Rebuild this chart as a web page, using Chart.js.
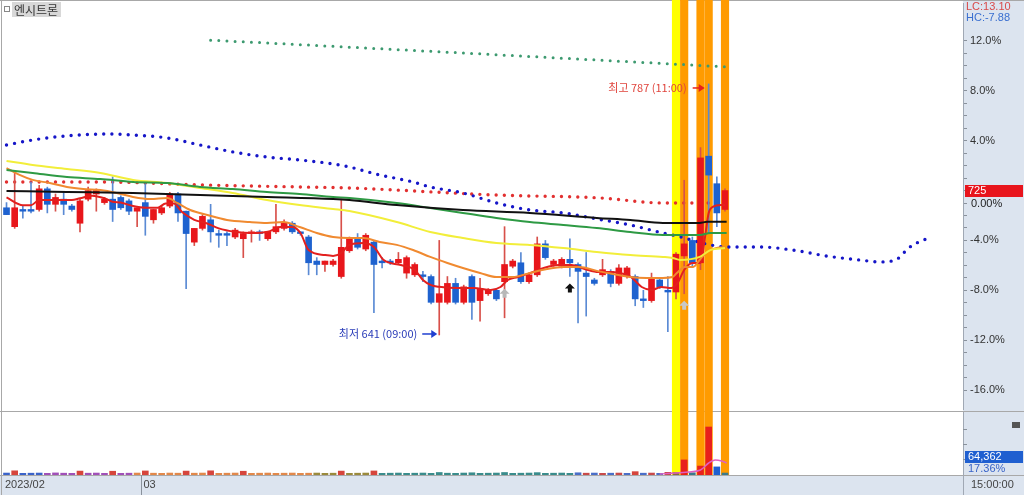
<!DOCTYPE html>
<html lang="ko">
<head>
<meta charset="UTF-8" />
<title>엔시트론</title>
<script src="https://cdn.jsdelivr.net/npm/chart.js@4.4.0/dist/chart.umd.min.js"></script>
<style>
  html, body { margin: 0; padding: 0; background: #fff; overflow: hidden; }
  #wrap { position: relative; width: 1024px; height: 495px; }
  #price { position: absolute; left: 0; top: 0; }
  #volume { position: absolute; left: 0; top: 412px; }
</style>
</head>
<body>
<div id="wrap">
  <canvas id="price" width="1024" height="412"></canvas>
  <canvas id="volume" width="1024" height="83"></canvas>
</div>
<script>
// ---- data (hourly candles) ----
const stockName = '엔시트론';
const opens = [715,704,714,714,714,726,717,720,716,706, 720,723,718,720,721,719,713,718,708,712,
  716,723,713,695,703,708,700,700,698,697, 700,701,697,701,703,706,701,698,684,682,
  682,675,690,697,691,695,684,684,683,677, 676,676,675,660,660,671,660,675,661,665,
  667,672,681,683,672,676,694,682,681,685, 682,677,673,676,678,671,675,675,662,661,
  673,667,666,687,696,683,745,729,714];
const highs = [718,735,716,730,728,727,723,724,717,720, 727,726,721,733,722,720,715,729,714,716,
  724,724,713,703,711,717,702,701,703,701, 702,702,701,717,708,707,701,699,686,684,
  685,720,698,700,700,696,686,685,689,687, 683,678,676,696,675,674,670,676,674,668,
  668,704,685,689,677,698,696,685,686,697, 683,689,674,685,679,682,681,676,667,677,
  674,675,689,731,698,750,787,733,726];
const lows = [711,703,709,712,713,712,713,711,713,701, 719,713,717,707,714,711,704,699,706,711,
  715,707,668,693,702,695,692,693,697,686, 695,696,696,700,702,700,699,676,676,678,
  681,674,689,691,690,654,680,682,682,674, 675,672,659,641,659,659,659,650,649,664,
  661,651,680,671,671,675,685,681,680,675, 648,652,670,675,669,670,674,658,657,660,
  668,643,662,665,681,679,700,704,713];
const closes = [711,715,713,713,726,717,721,717,714,719, 725,725,720,714,715,713,715,710,714,715,
  723,712,700,703,710,701,699,699,702,700, 701,700,701,704,706,701,700,683,682,684,
  684,692,697,692,699,682,683,683,685,686, 682,675,660,665,671,660,669,660,668,667,
  662,682,684,672,676,694,686,684,685,683, 678,675,671,679,671,680,680,662,661,674,
  669,666,688,694,683,744,734,712,725];
const volumes = [7000,15000,6000,6500,7000,6000,7500,6500,6000,14000,
  6500,7000,6000,13500,6000,6500,7000,14500,6500,6000,
  7000,6500,14000,6500,7000,15000,6000,6500,7000,13500,
  6000,6500,7000,6000,6500,7000,6000,6500,7000,6000,
  6500,14000,6000,6500,7000,14500,6000,6500,7000,6000,
  6500,7000,6000,9000,6500,6000,7000,8000,6000,6500,
  7000,9000,6000,6500,7000,8500,6000,6500,7000,6000,
  8000,6500,7000,6000,6500,7000,6000,12000,6500,7000,
  6000,9500,9000,54000,8000,32000,172000,29000,7000];

// moving averages and reference lines: [candle index, price]
const ma5 = [[0,721],[2,716.5],[3,716.5],[4,719.5],[6,719.5],[8,719.5],[9,720.5],[10.5,722],[12,720.5],[13,718.5],
  [14,718],[15.5,716],[17,715],[18.5,715],[19.5,717.5],[20.5,717.5],[21.5,712.5],[23,708],[24.5,706],[26,703],
  [28,701],[30,700.3],[32,701],[33.5,703.8],[35,703.8],[36,700.3],[37,690.4],[39,687.5],[40,687],[41,688.7],
  [42,693.4],[43.7,694.5],[45,692.2],[46.2,684.6],[48.3,681.7],[50,678.8],[51,673],[52,670],[53,669],[55.3,668.3],
  [57.2,668.3],[59.3,667.2],[60.5,668.9],[61.4,673],[62.6,674.7],[64.2,677.1],[65.8,680],[67.6,681.7],[69.2,681.7],
  [70.8,679.4],[72.5,677.6],[74.1,677.6],[75,677.1],[76.5,674.7],[77.8,668.9],[79,667.2],[80.2,668.9],[81.4,668.3],
  [82.2,671.3],[83,678.8],[84,682.9],[85,682.9],[85.5,696.3],[86,712],[86.5,715.5],[87.5,716.6],[88,716.6]];
const ma20 = [[0,738.1],[1.6,734.1],[3.2,731.2],[5.3,729.4],[7.4,727.1],[9.4,725.9],[11.5,725.3],[13.5,723.6],
  [15.5,721.3],[17.6,720.1],[19.7,720.7],[20.9,717.8],[22.5,713.7],[24.6,710.8],[27,707.9],[29.8,706.7],[31.9,706.2],
  [33.9,706.7],[35.9,703.8],[38,700.3],[40,698],[42,697.4],[43.7,697.4],[45.7,695.1],[47.8,693.4],[49.8,690.4],
  [51.9,686.4],[54,682.9],[55.9,680],[58,677.1],[60,674.7],[62,674.7],[64.1,677.1],[66.2,679.4],[68.2,680.6],
  [70.2,680.6],[72.3,678.3],[74.3,676.5],[76.4,674.7],[78.4,674.2],[80.4,674.2],[81.6,674.7],[82.1,677.1],
  [83.1,680.6],[84.1,680.6],[84.9,684.6],[85.8,689.3],[87,691.6],[88,692.2]];
const ma60 = [[0,742.2],[3.2,739.9],[7.4,737.6],[11.5,735.2],[15.5,731.2],[19.7,729.4],[23.7,726.5],[27.7,723.6],
  [31.9,719.5],[35.9,716.6],[40,714.3],[42,713.1],[47.8,706.7],[51.9,700.9],[55.9,697.4],[60,694.5],[64.1,693.4],
  [68.2,691.6],[72.3,689.3],[76.4,687.5],[80.4,686.4],[81.6,685.8],[82.5,684.6],[84.9,686.4],[86.2,690.4],[88,691.6]];
const ma120 = [[0,737],[3.2,735.2],[7.4,732.9],[11.5,731.7],[15.5,730],[19.7,729.4],[23.7,727.1],[27.7,725.9],
  [31.9,724.2],[35.9,723],[40,721.3],[42,720.7],[47.8,717.8],[51.9,714.9],[55.9,712],[60,709.1],[64.1,706.7],
  [68.2,705],[72.3,703.2],[76.4,700.9],[80.4,699.2],[84.9,699.2],[86.2,700.3],[88.2,700.3]];
const ma240 = [[0,724.8],[7.4,724.2],[15.5,723.6],[23.7,722.4],[31.9,721.3],[40,720.1],[42,719.5],[47.8,716.6],
  [55.9,713.7],[64.1,712],[72.3,709.1],[76.4,707.9],[80.4,706.2],[84.9,706.2],[85.8,706.8],[88.2,706.8]];
const redDots = [[0,730],[11.5,730],[23.7,728.3],[35.9,727.1],[42,726.5],[60,722.4],[72.7,720.7],[80.4,717.8],[87.2,717.8]];
const blueDots = [[0,751.5],[3.2,754.4],[7.4,756.8],[12.6,757.9],[15.5,757.3],[19.7,755.6],[23.7,751.5],[27.7,747.5],
  [31.9,744.5],[35.9,742.8],[40,740.5],[42,738.7],[45.7,734.1],[49.8,730],[51.9,727.1],[55.9,723.6],[60,717.8],
  [64.1,713.7],[68.2,712],[72.3,708.5],[76.4,705],[80.4,700.3],[82.1,698.6],[86.2,693.4],[88.2,692.2],[92.3,692.2],
  [96.3,690.4],[100.5,686.9],[104.5,684.6],[107,683.5],[109.1,685.2],[110,689.3],[111,693.4],[112.1,695.7],[113.1,698]];
const greenDots = [[25,812.5],[56,805],[88,797]];
const volAvg = [[80,4000],[82,7000],[83.5,10700],[85,17900],[86,43000],[86.8,53700],[87.6,50000],[88.2,43000]];

const yellowBars = [82];
const orangeBars = [83, 85, 86, 88];
const signals = [{ i: 61, p: 665, c: '#b8b8b8' }, { i: 69, p: 668, c: '#111' }, { i: 83, p: 658, c: '#c8c8c8' }];
const monthStarts = [0, 17];
const monthLabels = ['2023/02', '03'];
const lastTime = '15:00:00';
const hiTime = '11:00', loTime = '09:00';
const volLast = '64,362', volPct = '17.36%';

// ---- derived ----
const base = closes[closes.length - 1];
const hiMax = Math.max(...highs), loMin = Math.min(...lows);
const iHi = highs.indexOf(hiMax), iLo = lows.indexOf(loMin);
const pctSteps = [];
for (let p = -16; p <= 12; p++) pctSteps.push(p);
const idx = closes.map((c, i) => i);
const up = i => closes[i] >= opens[i];
const pts = arr => arr.map(d => ({ x: d[0], y: d[1] }));

const X_MIN = -0.43, X_MAX = 117.15;
const Y_MIN = 597.95, Y_MAX = 834.1;
const KR = '"Noto Sans CJK KR", sans-serif';
const NUM = '"Liberation Sans", Arial, sans-serif';
const PANEL = '#dce4ef';

function drawBands(chart, top, bottom) {
  const ctx = chart.ctx, x = chart.scales.x;
  const half = (x.getPixelForValue(1) - x.getPixelForValue(0)) / 2;
  ctx.save();
  ctx.fillStyle = '#ffff00';
  yellowBars.forEach(i => { const c = x.getPixelForValue(i); ctx.fillRect(c - half, top, half * 2, bottom - top); });
  ctx.fillStyle = '#ff9b00';
  orangeBars.forEach(i => { const c = x.getPixelForValue(i); ctx.fillRect(c - half, top, half * 2, bottom - top); });
  ctx.restore();
}

function arrow(ctx, x1, x2, y, color) {
  ctx.strokeStyle = color; ctx.fillStyle = color; ctx.lineWidth = 1.5;
  ctx.beginPath(); ctx.moveTo(x1, y); ctx.lineTo(x2 - 4, y); ctx.stroke();
  ctx.beginPath(); ctx.moveTo(x2, y); ctx.lineTo(x2 - 6, y - 4); ctx.lineTo(x2 - 6, y + 4); ctx.closePath(); ctx.fill();
}

const pricePlugin = {
  id: 'pricePlugin',
  beforeDraw(chart) {
    const ctx = chart.ctx;
    ctx.save();
    ctx.fillStyle = '#fff'; ctx.fillRect(0, 0, 1024, 412);
    ctx.fillStyle = PANEL; ctx.fillRect(963, 0, 61, 412);
    // frame, drawn under the signal bands
    ctx.strokeStyle = '#a8a8a8'; ctx.lineWidth = 1;
    ctx.beginPath(); ctx.moveTo(0, 0.5); ctx.lineTo(1024, 0.5); ctx.stroke();
    ctx.beginPath(); ctx.moveTo(1.5, 0); ctx.lineTo(1.5, 412); ctx.stroke();
    ctx.beginPath(); ctx.moveTo(0, 411.5); ctx.lineTo(1024, 411.5); ctx.stroke();
    ctx.restore();
  },
  beforeDatasetsDraw(chart) { drawBands(chart, 0, 412); },
  afterDraw(chart) {
    const ctx = chart.ctx, xs = chart.scales.x, ys = chart.scales.y;
    ctx.save();
    // title
    ctx.strokeStyle = '#888'; ctx.lineWidth = 1; ctx.strokeRect(4.5, 6.5, 5, 5);
    ctx.fillStyle = '#d8d8d8'; ctx.fillRect(12, 2, 49, 15);
    ctx.fillStyle = '#333'; ctx.font = '12px ' + KR; ctx.textBaseline = 'middle'; ctx.textAlign = 'left';
    ctx.fillText(stockName, 14, 10);
    // LC / HC
    ctx.font = '11px ' + NUM;
    ctx.fillStyle = '#d94a4a';
    ctx.fillText('LC:' + ((base / loMin - 1) * 100).toFixed(2), 966, 7);
    ctx.fillStyle = '#3a6fd0';
    ctx.fillText('HC:' + ((base / hiMax - 1) * 100).toFixed(2), 966, 18);
    // current price box
    const yb = ys.getPixelForValue(base);
    ctx.fillStyle = '#e8141c'; ctx.fillRect(965, Math.round(yb) - 6, 58, 12);
    ctx.fillStyle = '#fff'; ctx.fillText(String(base), 968, yb);
    ctx.fillStyle = '#222'; ctx.fillText('0.00%', 971, yb + 13);
    // high / low notes
    ctx.font = '11px ' + KR;
    const hx = xs.getPixelForValue(iHi), hy = ys.getPixelForValue(hiMax) + 4;
    ctx.fillStyle = '#e0443c'; ctx.textAlign = 'right';
    ctx.fillText('최고 ' + hiMax + ' (' + hiTime + ')', hx - 22, hy);
    arrow(ctx, hx - 16, hx - 4, hy, '#e8201c');
    const lx = xs.getPixelForValue(iLo), ly = ys.getPixelForValue(loMin) - 1;
    ctx.fillStyle = '#2a3cb8';
    ctx.fillText('최저 ' + loMin + ' (' + loTime + ')', lx - 22, ly);
    arrow(ctx, lx - 17, lx - 2, ly, '#1f3fd0');
    // signal arrows
    signals.forEach(s => {
      const cx = xs.getPixelForValue(s.i), cy = ys.getPixelForValue(s.p);
      ctx.fillStyle = s.c;
      ctx.beginPath();
      ctx.moveTo(cx, cy - 5); ctx.lineTo(cx + 5, cy); ctx.lineTo(cx + 2, cy); ctx.lineTo(cx + 2, cy + 4);
      ctx.lineTo(cx - 2, cy + 4); ctx.lineTo(cx - 2, cy); ctx.lineTo(cx - 5, cy); ctx.closePath(); ctx.fill();
    });
    ctx.restore();
  }
};

const lineDs = (arr, color, width) => ({
  type: 'line', data: pts(arr), borderColor: color, borderWidth: width || 2,
  pointRadius: 0, pointHoverRadius: 0, cubicInterpolationMode: 'monotone', order: 1
});
const dotDs = (arr, color, size) => ({
  type: 'line', data: pts(arr), borderColor: color, borderWidth: size,
  borderDash: [0, 8.165], borderCapStyle: 'round', pointRadius: 0, pointHoverRadius: 0,
  cubicInterpolationMode: 'monotone', order: 4
});

new Chart(document.getElementById('price'), {
  type: 'bar',
  data: {
    datasets: [
      dotDs(greenDots, '#3d9a70', 3),
      dotDs(blueDots, '#1616c8', 3.4),
      dotDs(redDots, '#e23030', 3.4),
      lineDs(ma240, '#111111', 2),
      lineDs(ma120, '#2e9a44', 2),
      lineDs(ma60, '#f2ee3a', 2),
      lineDs(ma20, '#f08a30', 2),
      lineDs(ma5, '#e3201e', 2),
      {
        type: 'bar', data: idx.map(i => ({ x: i, y: [lows[i], highs[i]] })),
        backgroundColor: c => up(c.dataIndex) ? '#d8504a' : '#5a8ad4',
        barThickness: 1, grouped: false, order: 3
      },
      {
        type: 'bar', data: idx.map(i => ({ x: i, y: [opens[i], closes[i]] })),
        backgroundColor: c => up(c.dataIndex) ? '#e8161b' : '#1e62cf',
        barThickness: 6, grouped: false, order: 2
      }
    ]
  },
  options: {
    responsive: false, animation: false, devicePixelRatio: 1, events: [],
    layout: { autoPadding: false, padding: { left: 3, top: 3, right: 0, bottom: 3 } },
    plugins: { legend: { display: false }, tooltip: { enabled: false } },
    scales: {
      x: { type: 'linear', min: X_MIN, max: X_MAX, display: false, offset: false },
      y: {
        position: 'right', min: Y_MIN, max: Y_MAX,
        afterFit: s => { s.width = 61; s.paddingTop = 0; s.paddingBottom = 0; },
        afterBuildTicks: s => {
          // edge ticks carry no label so the axis adds no extra padding
          s.ticks = [{ value: Y_MIN }]
            .concat(pctSteps.map(p => ({ value: base * (1 + p / 100) })))
            .concat([{ value: Y_MAX }]);
        },
        ticks: {
          autoSkip: false, padding: 3, color: '#333', font: { family: NUM, size: 11 },
          callback: (v, i, t) => {
            if (i === 0 || i === t.length - 1) return null;
            const p = Math.round((v / base - 1) * 100);
            return (p % 4 === 0 && p !== 0) ? p.toFixed(1) + '%' : '';
          }
        },
        grid: { drawOnChartArea: false, tickLength: 4, color: '#8a929c' },
        border: { color: '#a0a8b4' }
      }
    }
  },
  plugins: [pricePlugin]
});

// ---- volume pane ----
function volColor(i) {
  if (i >= 82) return ({ 82: '#8a6a3a', 83: '#e8201c', 84: '#3a7a8a', 85: '#e8201c', 86: '#e8201c', 87: '#1f60d0', 88: '#3a7a8a' })[i];
  if (volumes[i] >= 11000) return '#d6453c';
  if (i < 5) return '#3b63c9';
  if (i < 16) return '#a050b8';
  if (i < 38) return '#e2884a';
  if (i < 46) return '#9a8a3c';
  if (i < 70) return '#3a8c8c';
  return i % 2 ? '#c84a4a' : '#4a6ec8';
}

const volPlugin = {
  id: 'volPlugin',
  beforeDraw(chart) {
    const ctx = chart.ctx;
    ctx.save();
    ctx.fillStyle = '#fff'; ctx.fillRect(0, 0, 1024, 83);
    ctx.fillStyle = PANEL; ctx.fillRect(963, 0, 61, 83); ctx.fillRect(0, 63, 963, 20);
    ctx.restore();
  },
  beforeDatasetsDraw(chart) { drawBands(chart, 0, 63); },
  afterDraw(chart) {
    const ctx = chart.ctx, xs = chart.scales.x;
    ctx.save();
    ctx.strokeStyle = '#a8a8a8'; ctx.lineWidth = 1;
    ctx.beginPath(); ctx.moveTo(1.5, 0); ctx.lineTo(1.5, 83); ctx.stroke();
    ctx.beginPath(); ctx.moveTo(0, 63.5); ctx.lineTo(1024, 63.5); ctx.stroke();
    ctx.strokeStyle = '#a0a8b4';
    ctx.beginPath(); ctx.moveTo(963.5, 0); ctx.lineTo(963.5, 83); ctx.stroke();
    ctx.strokeStyle = '#8a929c';
    [17, 32, 47].forEach(y => { ctx.beginPath(); ctx.moveTo(963, y + 0.5); ctx.lineTo(967, y + 0.5); ctx.stroke(); });
    // month labels
    ctx.font = '11px ' + NUM; ctx.textBaseline = 'middle'; ctx.textAlign = 'left'; ctx.fillStyle = '#444';
    monthStarts.forEach((m, k) => {
      const px = k === 0 ? 3 : Math.round(xs.getPixelForValue(m - 0.5)) + 0.5;
      if (k > 0) { ctx.strokeStyle = '#8a929c'; ctx.beginPath(); ctx.moveTo(px, 63); ctx.lineTo(px, 83); ctx.stroke(); }
      ctx.fillText(monthLabels[k], px + 2, 73);
    });
    ctx.fillText(lastTime, 971, 73);
    // right pane labels
    ctx.fillStyle = '#555'; ctx.fillRect(1012, 10, 8, 6);
    ctx.fillStyle = '#1f5fd0'; ctx.fillRect(965, 39, 58, 12);
    ctx.fillStyle = '#fff'; ctx.fillText(volLast, 968, 45);
    ctx.fillStyle = '#3a64c8'; ctx.fillText(volPct, 968, 57);
    ctx.restore();
  }
};

new Chart(document.getElementById('volume'), {
  type: 'bar',
  data: {
    datasets: [
      {
        type: 'line', data: pts(volAvg), borderColor: '#e060c0', borderWidth: 1.5,
        pointRadius: 0, pointHoverRadius: 0, cubicInterpolationMode: 'monotone', order: 1
      },
      {
        type: 'bar', data: idx.map(i => ({ x: i, y: volumes[i] })),
        backgroundColor: c => volColor(c.dataIndex), barThickness: 6, grouped: false, order: 2
      }
    ]
  },
  options: {
    responsive: false, animation: false, devicePixelRatio: 1, events: [],
    layout: { autoPadding: false, padding: { left: 3, top: 3, right: 61, bottom: 20 } },
    plugins: { legend: { display: false }, tooltip: { enabled: false } },
    scales: {
      x: { type: 'linear', min: X_MIN, max: X_MAX, display: false, offset: false },
      y: { min: 0, max: 215000, display: false }
    }
  },
  plugins: [volPlugin]
});
</script>
</body>
</html>
